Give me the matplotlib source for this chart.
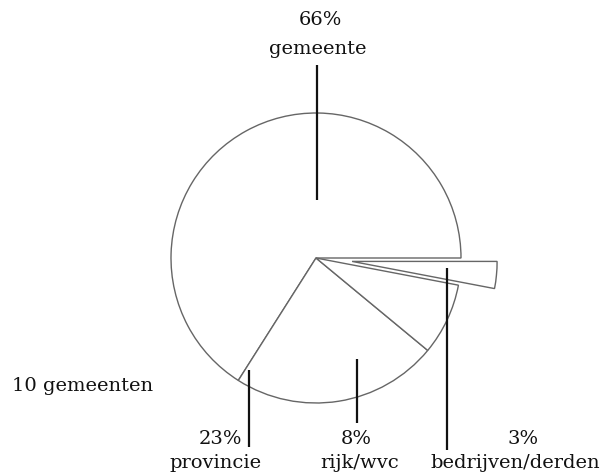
import matplotlib
matplotlib.use("Agg")
from matplotlib import pyplot as plt

# aandeel per financier
labels = ["gemeente", "provincie", "rijk/wvc", "bedrijven/derden"]
shares = [66, 23, 8, 3]
explode = [0, 0, 0, 0.25]  # als fractie van de straal

W, H = 602, 475
fig = plt.figure(figsize=(W / 100, H / 100), dpi=100)
ax = fig.add_axes([0, 0, 1, 1])

cx, cy, r = 316, H - 258, 145
ax.pie(shares, explode=[e * r for e in explode], startangle=0, counterclock=True,
       center=(cx, cy), radius=r, colors=["white"] * 4,
       wedgeprops=dict(edgecolor="#666666", linewidth=1.0), frame=True)
ax.set_xlim(0, W)
ax.set_ylim(0, H)
ax.set_aspect("equal")
ax.axis("off")

font = dict(family="DejaVu Serif", fontsize=14, color="#111111")

# verwijslijnen (x, y-boven, y-onder in pixels van boven)
leaders = [(317, 65, 200), (249, 370, 447), (357, 359, 423), (447, 268, 450)]
for x, y0, y1 in leaders:
    ax.plot([x, x], [H - y0, H - y1], color="#111111", lw=1.6, solid_capstyle="butt")

# tekstposities: (x procent, x label) in pixels
pct = [f"{s}%" for s in shares]
pct_x = [320, 220, 356, 523]
lab_x = [318, 216, 360, 515]
ax.text(pct_x[0], H - 20, pct[0], ha="center", va="center", **font)
ax.text(lab_x[0], H - 49, labels[0], ha="center", va="center", **font)
for i in range(1, 4):
    ax.text(pct_x[i], H - 439, pct[i], ha="center", va="center", **font)
    ax.text(lab_x[i], H - 463, labels[i], ha="center", va="center", **font)
ax.text(12, H - 386, "10 gemeenten", ha="left", va="center", **font)

fig.savefig("out.png", dpi=100)
